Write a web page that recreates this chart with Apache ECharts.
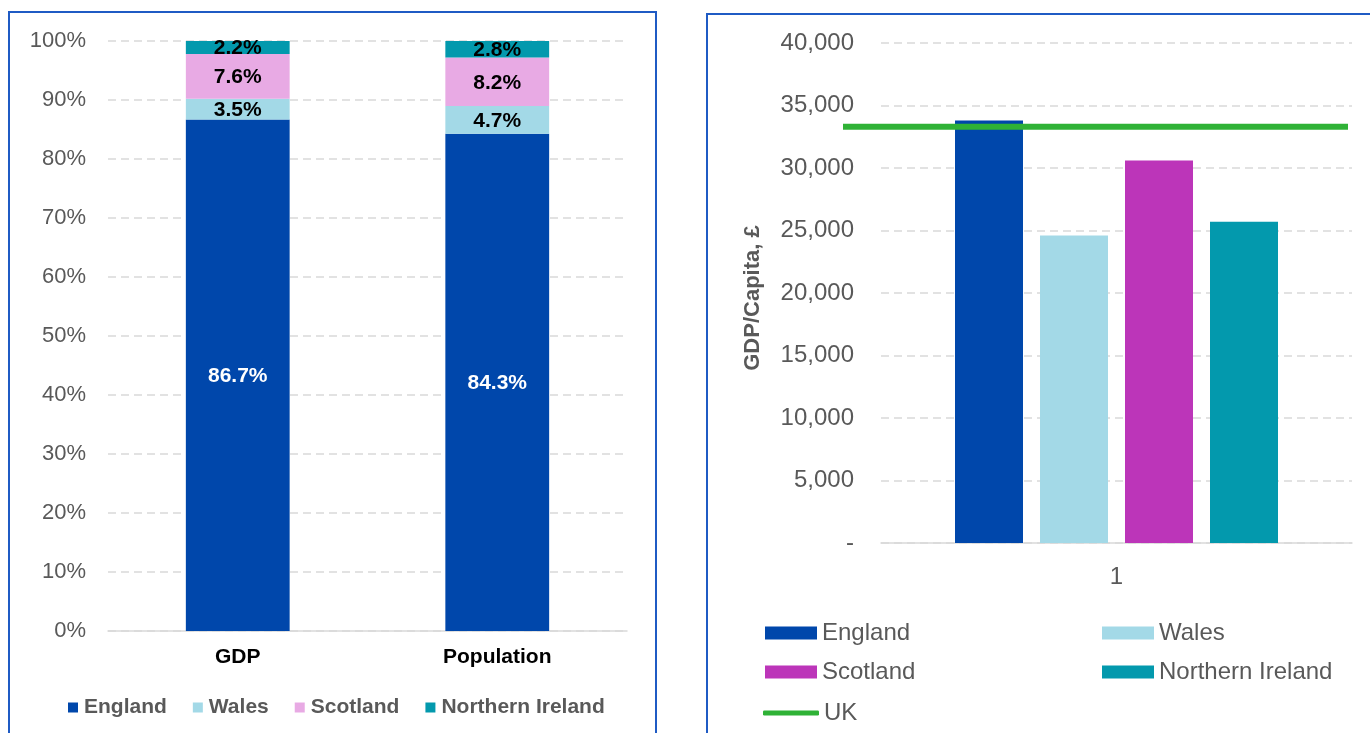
<!DOCTYPE html>
<html>
<head>
<meta charset="utf-8">
<title>GDP and population shares; GDP per capita</title>
<script src="https://cdn.jsdelivr.net/npm/echarts@6/dist/echarts.min.js"></script>
<style>
  html, body { margin: 0; padding: 0; background: #ffffff; }
  #chart { width: 1370px; height: 733px; }
</style>
</head>
<body>
<div id="chart"></div>
<script>
// Shares of UK total (%)
const shareCategories = ['GDP', 'Population'];
const regions = ['England', 'Wales', 'Scotland', 'Northern Ireland'];
const gdpShare = [86.7, 3.5, 7.6, 2.2];
const populationShare = [84.3, 4.7, 8.2, 2.8];

// GDP per capita (£)
const capitaCategories = ['1'];
const gdpPerCapita = [33800, 24600, 30600, 25700];
const ukPerCapita = 33300;

const shareColors = ['#0047ab', '#a3d9e7', '#e8aae4', '#0399ad'];
const capitaColors = ['#0047ab', '#a3d9e7', '#bc35b9', '#0399ad'];
const ukColor = '#2fb236';

const FONT = '"Liberation Sans", Arial, sans-serif';
const GREY = '#595959';
const GRID = '#d9d9d9';
const FRAME = '#1f5bc4';

const chart = echarts.init(document.getElementById('chart'), null, { renderer: 'canvas' });

const shareSeries = regions.map((name, i) => ({
  type: 'bar',
  name: name,
  stack: 'share',
  xAxisIndex: 0,
  yAxisIndex: 0,
  barWidth: '40%',
  data: [gdpShare[i], populationShare[i]],
  itemStyle: { color: shareColors[i] },
  label: {
    show: true,
    position: 'inside',
    offset: [0, 1],
    formatter: p => p.value.toFixed(1) + '%',
    fontFamily: FONT,
    fontWeight: 'bold',
    fontSize: 21,
    color: i === 0 ? '#ffffff' : '#000000'
  }
}));

const capitaSeries = regions.map((name, i) => ({
  type: 'bar',
  name: name,
  xAxisIndex: 1,
  yAxisIndex: 1,
  barWidth: 68,
  barGap: '25%',
  data: [gdpPerCapita[i]],
  itemStyle: { color: capitaColors[i] }
}));

const ukSeries = {
  type: 'line',
  name: 'UK',
  xAxisIndex: 2,
  yAxisIndex: 2,
  symbol: 'none',
  data: [[0, ukPerCapita], [1, ukPerCapita]],
  lineStyle: { color: ukColor, width: 6, cap: 'butt' },
  itemStyle: { color: ukColor },
  z: 5
};

const dashed = { show: true, lineStyle: { color: GRID, width: 1.5, type: [8, 5] } };

function capitaLegend(name, color, left, top, isLine) {
  return {
    data: [{ name: name, icon: isLine ? 'roundRect' : 'rect', itemStyle: { color: color } }],
    left: left,
    top: top,
    itemWidth: isLine ? 56 : 52,
    itemHeight: isLine ? 5 : 13,
    itemGap: 0,
    selectedMode: false,
    textStyle: { fontFamily: FONT, fontSize: 24, color: GREY, padding: [0, 0, 0, 0] }
  };
}

chart.setOption({
  animation: false,
  backgroundColor: '#ffffff',
  graphic: [
    {
      type: 'rect',
      shape: { x: 9, y: 12, width: 647, height: 800 },
      style: { fill: 'none', stroke: FRAME, lineWidth: 2 },
      silent: true
    },
    {
      type: 'rect',
      shape: { x: 707, y: 14, width: 800, height: 800 },
      style: { fill: 'none', stroke: FRAME, lineWidth: 2 },
      silent: true
    }
  ],
  grid: [
    { left: 108, right: 743, top: 41, bottom: 102 },
    { left: 881, right: 18, top: 43, bottom: 190 },
    { left: 843, right: 22, top: 43, bottom: 190 }
  ],
  xAxis: [
    {
      type: 'category',
      gridIndex: 0,
      data: shareCategories,
      axisTick: { show: false },
      axisLine: { lineStyle: { color: GRID, width: 1.5 } },
      axisLabel: { margin: 16, fontFamily: FONT, fontWeight: 'bold', fontSize: 21, color: '#000000' }
    },
    {
      type: 'category',
      gridIndex: 1,
      data: capitaCategories,
      axisTick: { show: false },
      axisLine: { lineStyle: { color: GRID, width: 1.5 } },
      axisLabel: { margin: 22, fontFamily: FONT, fontSize: 24, color: GREY }
    },
    {
      type: 'value',
      gridIndex: 2,
      min: 0,
      max: 1,
      show: false
    }
  ],
  yAxis: [
    {
      type: 'value',
      gridIndex: 0,
      min: 0,
      max: 100,
      interval: 10,
      axisLine: { show: false },
      axisTick: { show: false },
      splitLine: dashed,
      axisLabel: { margin: 22, formatter: '{value}%', fontFamily: FONT, fontSize: 22, color: GREY }
    },
    {
      type: 'value',
      gridIndex: 1,
      min: 0,
      max: 40000,
      interval: 5000,
      axisLine: { show: false },
      axisTick: { show: false },
      splitLine: dashed,
      name: 'GDP/Capita, £',
      nameLocation: 'middle',
      nameRotate: 90,
      nameGap: 117,
      nameTextStyle: { fontFamily: FONT, fontWeight: 'bold', fontSize: 22, color: GREY, padding: [0, 10, 0, 0] },
      axisLabel: {
        margin: 27,
        fontFamily: FONT,
        fontSize: 24,
        color: GREY,
        formatter: v => (v === 0 ? '-' : v.toLocaleString('en-US'))
      }
    },
    {
      type: 'value',
      gridIndex: 2,
      min: 0,
      max: 40000,
      show: false
    }
  ],
  legend: [
    {
      data: regions.map((name, i) => ({ name: name, itemStyle: { color: shareColors[i] } })),
      left: 63,
      top: 692,
      icon: 'rect',
      itemWidth: 10,
      itemHeight: 10,
      itemGap: 26,
      selectedMode: false,
      textStyle: { fontFamily: FONT, fontWeight: 'bold', fontSize: 21, color: GREY, padding: [0, 0, 0, 1] }
    },
    capitaLegend('England', capitaColors[0], 760, 616, false),
    capitaLegend('Wales', capitaColors[1], 1097, 616, false),
    capitaLegend('Scotland', capitaColors[2], 760, 655, false),
    capitaLegend('Northern Ireland', capitaColors[3], 1097, 655, false),
    capitaLegend('UK', ukColor, 758, 696, true)
  ],
  series: [...shareSeries, ...capitaSeries, ukSeries]
});
</script>
</body>
</html>
